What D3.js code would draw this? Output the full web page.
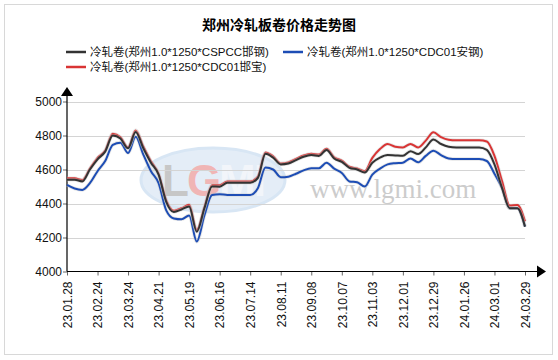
<!DOCTYPE html>
<html><head><meta charset="utf-8">
<script src="https://cdn.jsdelivr.net/npm/d3@7"></script>
<style>body{margin:0;background:#fff}svg{display:block}</style>
</head><body>
<svg id="c" width="558" height="360"></svg>
<script>
const title = "郑州冷轧板卷价格走势图";
const seriesNames = ["冷轧卷(郑州1.0*1250*CSPCC邯钢)", "冷轧卷(郑州1.0*1250*CDC01安钢)", "冷轧卷(郑州1.0*1250*CDC01邯宝)"];
const seriesColors = ["#333333", "#1d4db5", "#d93434"];
const tickLabels = ["23.01.28","23.02.24","23.03.24","23.04.21","23.05.19","23.06.16","23.07.14","23.08.11","23.09.08","23.10.07","23.11.03","23.12.01","23.12.29","24.01.26","24.03.01","24.03.29"];
const yTicks = [4000, 4200, 4400, 4600, 4800, 5000];
const blackVals = [4540,4540,4530,4600,4660,4705,4800,4782,4725,4820,4725,4640,4570,4410,4350,4365,4382,4234,4372,4500,4499,4522,4522,4522,4522,4550,4692,4670,4630,4635,4655,4675,4685,4680,4715,4665,4645,4610,4600,4582,4640,4670,4685,4683,4681,4708,4691,4730,4777,4750,4734,4730,4730,4730,4730,4715,4630,4490,4372,4372,4264];
const blueVals  = [4509,4488,4480,4520,4590,4650,4745,4758,4697,4793,4688,4590,4520,4360,4312,4307,4330,4176,4330,4450,4455,4450,4450,4450,4450,4490,4612,4600,4555,4558,4575,4595,4607,4607,4640,4605,4580,4530,4525,4500,4570,4605,4630,4637,4640,4665,4642,4680,4711,4685,4665,4662,4662,4662,4662,4650,4575,4490,4372,4372,4264];
const redVals   = [4548,4548,4538,4605,4668,4712,4810,4790,4730,4830,4735,4648,4575,4418,4358,4372,4392,4245,4378,4508,4508,4530,4530,4530,4530,4558,4700,4678,4636,4642,4662,4682,4692,4688,4722,4672,4652,4616,4606,4590,4668,4720,4750,4734,4730,4750,4730,4770,4819,4790,4775,4772,4772,4772,4772,4765,4680,4530,4388,4391,4295];

const svg = d3.select("#c");
const font = "'Liberation Sans', Arial, 'Noto Sans CJK SC', sans-serif";
const cjk = "'Noto Sans CJK SC', 'Liberation Sans', sans-serif";

// frame
svg.append("rect").attr("x",4.5).attr("y",4.5).attr("width",548).attr("height",350)
  .attr("fill","#fff").attr("stroke","#d8d8d8");

const L = 67, R = 525, T = 101.5, B = 271.5;
const n = blackVals.length;
const x = d3.scaleLinear().domain([0, n-1]).range([L, R]);
const y = d3.scaleLinear().domain([4000, 5000]).range([B, T]);

// watermark
const wm = svg.append("g").attr("opacity",0.55);
wm.append("ellipse").attr("cx",213).attr("cy",180).attr("rx",72).attr("ry",32)
  .attr("fill","#cfe0f2").attr("stroke","#b9d2ec").attr("stroke-width",3);
wm.append("text").attr("x",213).attr("y",196).attr("text-anchor","middle")
  .attr("font-family",font).attr("font-size",44).attr("font-weight","bold")
  .attr("fill","#aaa").attr("letter-spacing",-2)
  .selectAll("tspan").data([["L","#9a9a9a"],["G","#e57a7a"],["MI","#e8eef6"]]).join("tspan")
  .attr("fill",d=>d[1]).text(d=>d[0]);
svg.append("text").attr("x",310).attr("y",198).attr("font-family","'Liberation Serif', 'DejaVu Serif', serif")
  .attr("font-size",27).attr("fill","#cccccc").text("www.lgmi.com");

// grid
svg.append("g").selectAll("line").data(yTicks.filter(d=>d>4000)).join("line")
  .attr("x1",L).attr("x2",R).attr("y1",d=>Math.round(y(d))+0.5).attr("y2",d=>Math.round(y(d))+0.5)
  .attr("stroke","#d4d4d4").attr("stroke-width",1);

// y axis
const yAxis = d3.axisLeft(y).tickValues(yTicks).tickSize(4).tickFormat(d3.format("d"));
const gy = svg.append("g").attr("transform",`translate(${L},0)`).call(yAxis);
gy.select(".domain").remove();
gy.selectAll("text").attr("font-family",font).attr("font-size",12).attr("fill","#111").attr("x",-5).attr("dy","0.36em");
gy.selectAll("line").attr("stroke","#666");
svg.append("line").attr("x1",L).attr("x2",L).attr("y1",B).attr("y2",95).attr("stroke","#000").attr("stroke-width",1.2);
svg.append("path").attr("d",`M${L-6},${96}L${L},${87}L${L+6},${96}Z`).attr("fill","#000");

// x axis
const tickIdx = tickLabels.map((d,i)=>i*4);
const xAxis = d3.axisBottom(x).tickValues(tickIdx).tickSize(4).tickFormat((d,i)=>tickLabels[i]);
const gx = svg.append("g").attr("transform",`translate(0,${B})`).call(xAxis);
gx.select(".domain").remove();
gx.selectAll("line").attr("stroke","#666");
gx.selectAll("text").attr("font-family",font).attr("font-size",12).attr("fill","#111")
  .attr("text-anchor","end").attr("transform","rotate(-90)").attr("x",-10).attr("y",0).attr("dy","0.36em");
svg.append("line").attr("x1",L).attr("x2",538).attr("y1",B).attr("y2",B).attr("stroke","#000").attr("stroke-width",1.2);
svg.append("path").attr("d",`M${537},${B-6}L${546},${B}L${537},${B+6}Z`).attr("fill","#000");

// lines
const line = d3.line().x((d,i)=>x(i)).y(d=>y(d)).curve(d3.curveMonotoneX);
const data = [blackVals, blueVals, redVals];
const order = [1,2,0];
const lg = svg.append("g");
order.forEach(k=>{
  lg.append("path").attr("d",line(data[k])).attr("fill","none").attr("stroke","#c8c8c8").attr("stroke-opacity",0.45).attr("stroke-width",3.6);
  lg.append("path").attr("d",line(data[k])).attr("fill","none").attr("stroke",seriesColors[k]).attr("stroke-width",2);
});

// title
svg.append("text").attr("x",279).attr("y",30).attr("text-anchor","middle").attr("font-family",cjk)
  .attr("font-size",14).attr("font-weight","bold").attr("fill","#000").text(title);

// legend
const legPos = [[66,52],[283,52],[66,67]];
const leg = svg.append("g");
seriesNames.forEach((nm,i)=>{
  const [lx,ly] = legPos[i];
  leg.append("line").attr("x1",lx).attr("x2",lx+20).attr("y1",ly).attr("y2",ly).attr("stroke",seriesColors[i]).attr("stroke-width",2.5);
  leg.append("text").attr("x",lx+24).attr("y",ly).attr("dy","0.36em").attr("font-family",font)
    .attr("font-size",11.5).attr("fill","#111").text(nm);
});
</script>
</body></html>
